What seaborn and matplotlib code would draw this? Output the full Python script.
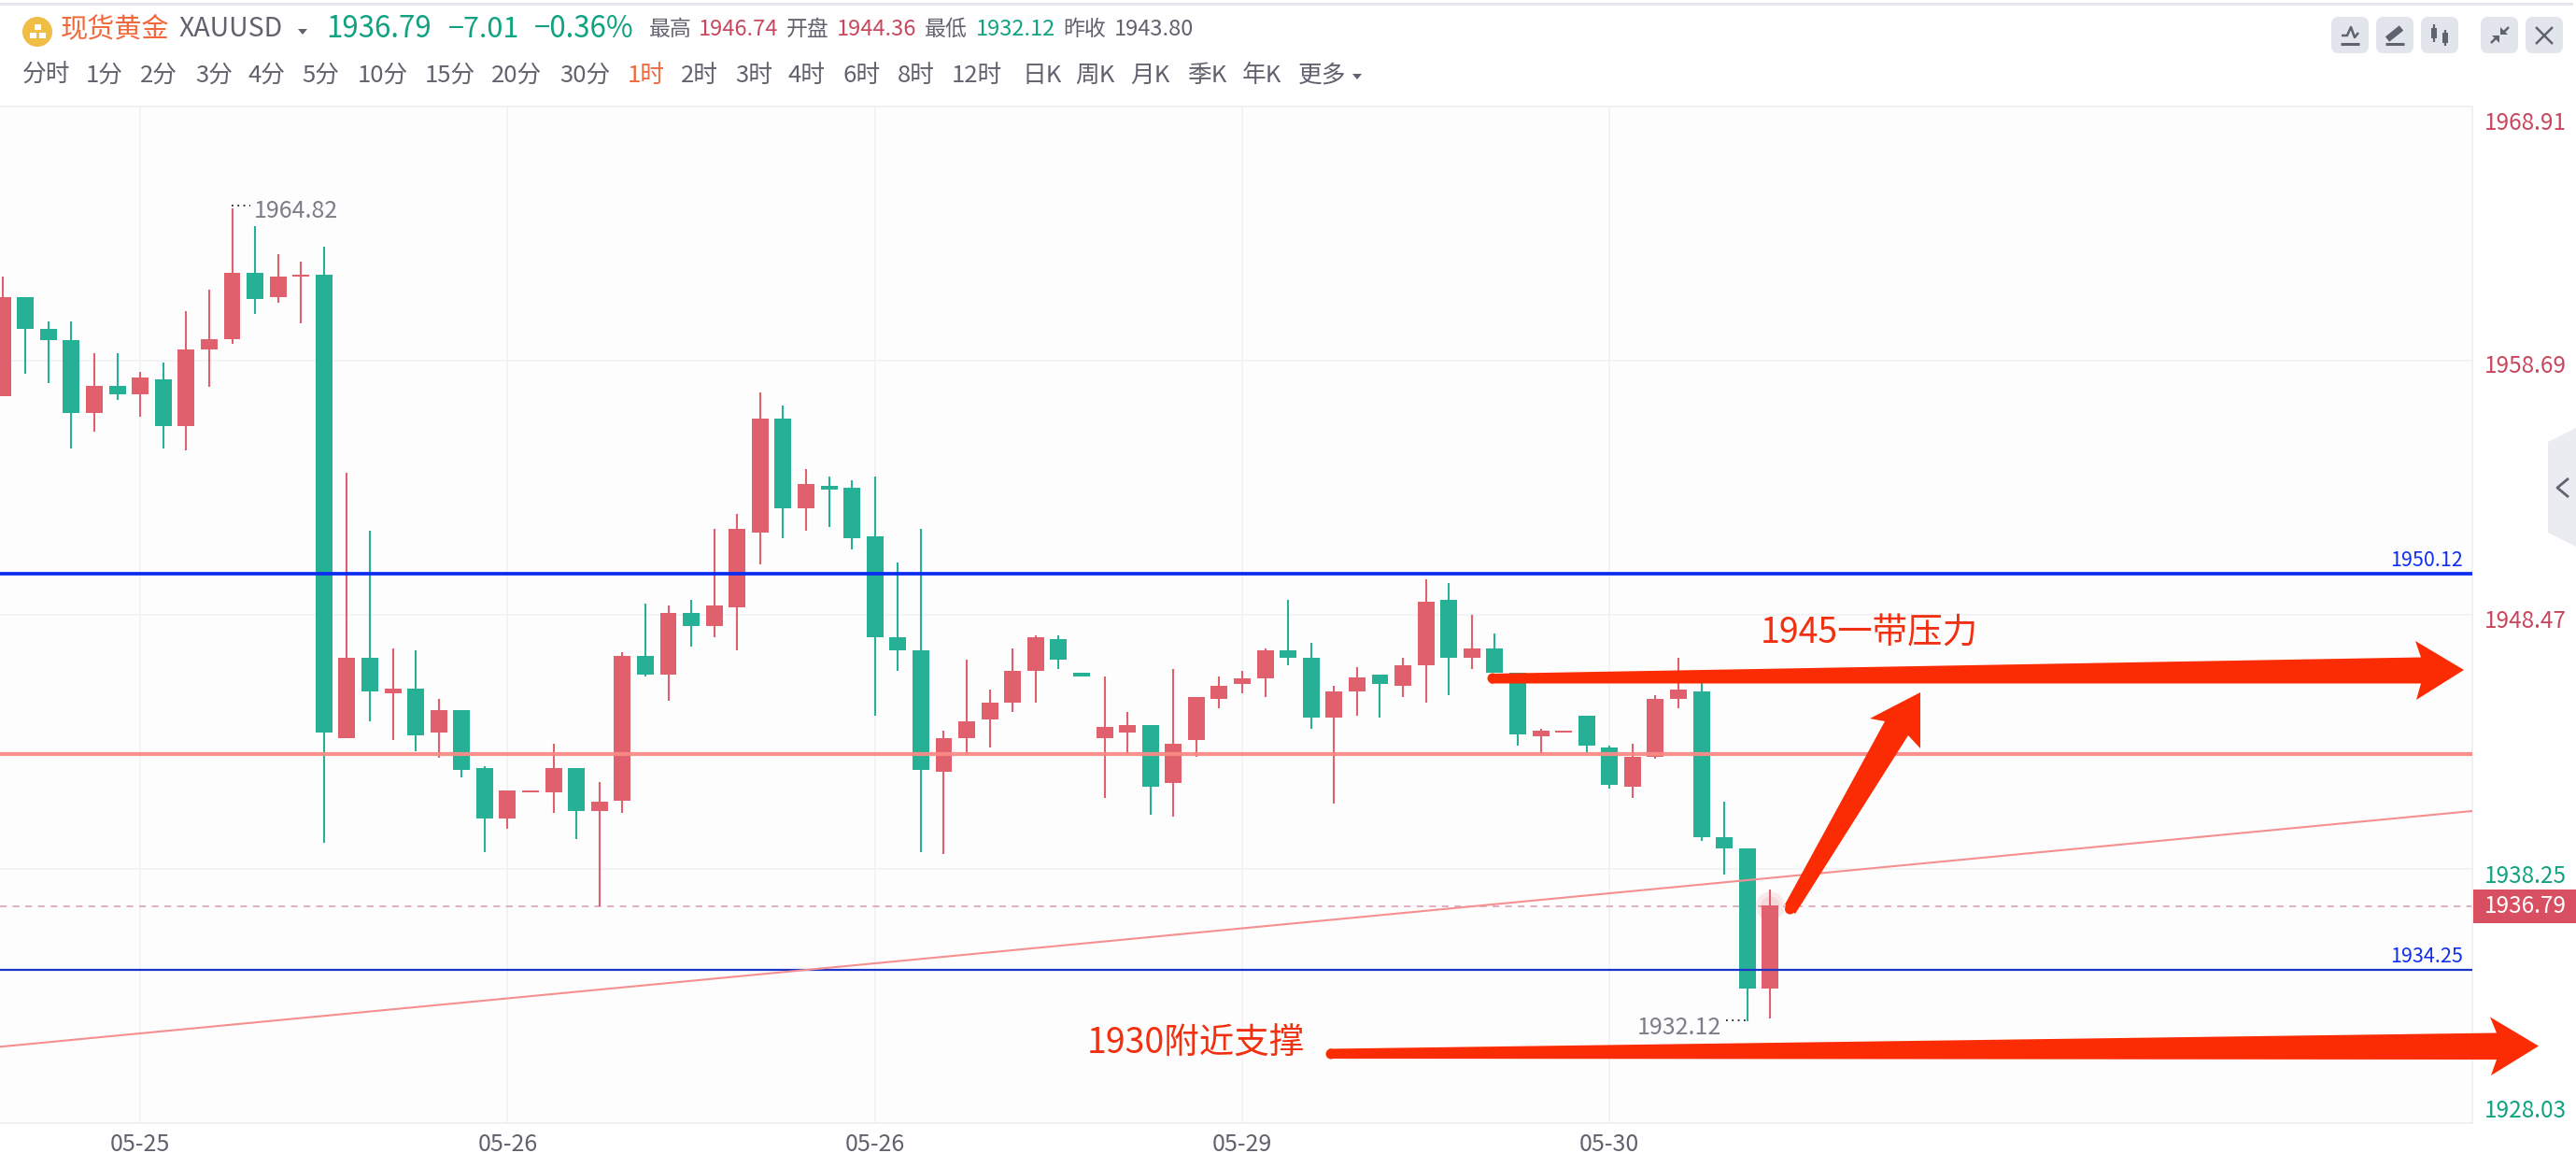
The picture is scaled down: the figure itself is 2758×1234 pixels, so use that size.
import numpy as np
import pandas as pd
import matplotlib
matplotlib.use('Agg')
import matplotlib.pyplot as plt
from matplotlib.patches import FancyBboxPatch, Polygon, Rectangle, Circle
import seaborn as sns

# --- data ---
opens = [1957.27, 1961.24, 1959.96, 1959.52, 1956.58, 1957.69, 1957.33, 1957.92, 1956.05, 1959.13,
         1959.57, 1962.22, 1961.24, 1962.08, 1962.14, 1943.51, 1946.73, 1945.31, 1945.52, 1943.72,
         1944.62, 1942.30, 1940.27, 1941.33, 1941.32, 1942.30, 1940.57, 1941.01, 1946.80, 1946.07,
         1948.54, 1948.02, 1948.76, 1951.77, 1956.35, 1952.74, 1953.65, 1953.57, 1951.62, 1947.56,
         1947.03, 1942.16, 1943.50, 1944.25, 1944.93, 1946.20, 1947.48, 1946.14, 1943.50, 1943.73,
         1944.03, 1941.71, 1943.42, 1945.08, 1945.69, 1945.91, 1947.03, 1946.74, 1944.33, 1945.38,
         1946.05, 1945.60, 1946.43, 1949.06, 1946.74, 1947.11, 1946.13, 1943.57, 1943.73, 1944.40,
         1943.13, 1941.54, 1942.76, 1945.08, 1945.38, 1939.51, 1939.07, 1933.44]
closes = [1961.24, 1959.96, 1959.52, 1956.58, 1957.69, 1957.33, 1958.00, 1956.05, 1959.13, 1959.57,
          1962.22, 1961.16, 1962.07, 1962.14, 1943.72, 1946.73, 1945.39, 1945.52, 1943.64, 1944.62,
          1942.22, 1940.27, 1941.40, 1941.40, 1942.30, 1940.57, 1940.94, 1946.80, 1946.06, 1948.54,
          1948.02, 1948.84, 1951.92, 1956.35, 1952.74, 1953.73, 1953.49, 1951.54, 1947.56, 1947.03,
          1942.22, 1943.50, 1944.17, 1944.93, 1946.20, 1947.56, 1946.67, 1945.98, 1943.95, 1944.03,
          1941.55, 1943.28, 1945.16, 1945.61, 1945.91, 1947.03, 1946.74, 1944.33, 1945.38, 1945.97,
          1945.68, 1946.43, 1948.99, 1946.74, 1947.11, 1946.13, 1943.65, 1943.80, 1943.80, 1943.21,
          1941.62, 1942.76, 1945.08, 1945.46, 1939.51, 1939.07, 1933.44, 1936.79]
highs = [1962.07, 1961.24, 1960.26, 1960.26, 1958.98, 1958.98, 1958.23, 1958.61, 1960.70, 1961.53,
         1964.82, 1964.10, 1962.97, 1962.66, 1963.27, 1954.17, 1951.85, 1947.11, 1947.03, 1945.08,
         1944.62, 1942.38, 1941.40, 1941.40, 1943.28, 1942.30, 1941.76, 1946.96, 1948.91, 1948.84,
         1949.06, 1951.92, 1952.52, 1957.41, 1956.88, 1954.32, 1954.02, 1953.88, 1954.02, 1950.57,
         1951.92, 1943.80, 1946.67, 1945.47, 1947.11, 1947.64, 1947.64, 1946.14, 1945.98, 1944.56,
         1944.03, 1946.28, 1945.16, 1945.98, 1946.20, 1947.11, 1949.06, 1947.33, 1945.60, 1946.36,
         1946.05, 1946.74, 1949.89, 1949.74, 1948.46, 1947.71, 1946.13, 1943.88, 1943.80, 1944.40,
         1943.21, 1943.27, 1945.24, 1946.74, 1945.76, 1940.94, 1939.07, 1937.41]
lows = [1957.27, 1958.15, 1957.79, 1955.14, 1955.82, 1957.10, 1956.43, 1955.14, 1955.07, 1957.64,
        1959.36, 1960.55, 1961.01, 1960.19, 1939.29, 1943.51, 1944.18, 1943.43, 1942.97, 1942.74,
        1941.92, 1938.93, 1939.88, 1941.33, 1940.50, 1939.44, 1936.74, 1940.50, 1945.98, 1945.00,
        1947.19, 1947.56, 1947.03, 1950.49, 1951.54, 1951.85, 1952.00, 1951.09, 1944.41, 1946.20,
        1938.93, 1938.85, 1942.89, 1943.13, 1944.56, 1944.93, 1946.28, 1945.98, 1941.10, 1942.91,
        1940.43, 1940.36, 1942.76, 1944.70, 1945.31, 1945.16, 1946.43, 1943.88, 1940.87, 1944.40,
        1944.33, 1945.16, 1944.93, 1945.24, 1946.29, 1946.13, 1943.21, 1942.86, 1943.73, 1942.90,
        1941.47, 1941.10, 1942.68, 1944.71, 1939.37, 1938.01, 1932.12, 1932.24]

y_ticks = [1968.91, 1958.69, 1948.47, 1938.25, 1928.03]
y_tick_colors = ['#c9475d', '#c9475d', '#c9475d', '#12a282', '#12a282']
y_tick_shift = [15, 3, 4, 5, -16]
x_ticks = [6, 22, 38, 54, 70]
x_labels = ['05-25', '05-26', '05-26', '05-29', '05-30']

blue_thick = 1950.12
blue_thin = 1934.19
pink_level = 1942.87
last_price = 1936.75
trend_x = [-0.11, 107.58]
trend_y = [1931.10, 1940.58]

# header text: text, x px, colour, size, weight
row1 = [('现货黄金', 65, '#f0683c', 21, 'normal'), ('XAUUSD', 192, '#62626e', 20.5, 'normal'),
        ('1936.79', 349, '#12a282', 22.5, 'medium'), ('−7.01', 480, '#12a282', 22, 'medium'),
        ('−0.36%', 572, '#12a282', 22.5, 'medium'), ('最高', 695, '#62626e', 16.5, 'normal'),
        ('1946.74', 748, '#c9475d', 17, 'normal'), ('开盘', 842, '#62626e', 16.5, 'normal'),
        ('1944.36', 896, '#c9475d', 17, 'normal'), ('最低', 990, '#62626e', 16.5, 'normal'),
        ('1932.12', 1045, '#12a282', 17, 'normal'), ('昨收', 1138, '#62626e', 16.5, 'normal'),
        ('1943.80', 1193, '#62626e', 17, 'normal')]
periods = ['分时', '1分', '2分', '3分', '4分', '5分', '10分', '15分', '20分', '30分', '1时', '2时',
           '3时', '4时', '6时', '8时', '12时', '日K', '周K', '月K', '季K', '年K', '更多']
period_x = [24, 92, 150, 209, 266, 323, 383, 455, 526, 599, 672, 729,
            787, 844, 902, 961, 1019, 1094, 1151, 1210, 1271, 1330, 1390]

W, H = 2758, 1234
PLOT_R, PLOT_T, PLOT_B = 2647, 114, 1202
RED, GREEN = '#e0606d', '#26b197'

sns.set_theme(style="white")
plt.rcParams['font.family'] = ['Noto Sans CJK SC', 'DejaVu Sans']
plt.rcParams['lines.solid_capstyle'] = 'butt'

fig = plt.figure(figsize=(W / 100, H / 100), dpi=100, facecolor='white')
ax = fig.add_axes([0, (H - PLOT_B) / H, PLOT_R / W, (PLOT_B - PLOT_T) / H], facecolor='#fdfdfd')

# --- candles ---
df = pd.DataFrame({'open': opens, 'close': closes, 'high': highs, 'low': lows})
df['i'] = np.arange(len(df))
df['kind'] = np.where(df['close'] >= df['open'], 'up', 'down')
df['top'] = df[['open', 'close']].max(axis=1)
df['bot'] = df[['open', 'close']].min(axis=1)

wicks = df.melt(id_vars=['i', 'kind'], value_vars=['high', 'low'], value_name='price')
sns.lineplot(data=wicks, x='i', y='price', units='i', estimator=None, hue='kind',
             palette={'up': RED, 'down': GREEN}, linewidth=1.5, legend=False, ax=ax, zorder=2)
for kind, color in [('up', RED), ('down', GREEN)]:
    sub = df[df['kind'] == kind]
    sns.barplot(x=sub['i'].values, y=(sub['top'] - sub['bot']).values, bottom=sub['bot'].values,
                native_scale=True, color=color, saturation=1, width=0.73, linewidth=0, ax=ax, zorder=2.5)

# --- levels ---
ax.axhline(blue_thick, color='#0a2df0', lw=2.7, zorder=4)
ax.axhline(blue_thin, color='#1a35c8', lw=1.6, zorder=4)
ax.axhline(pink_level, color='#fb8a86', lw=3, alpha=0.95, zorder=4)
ax.axhline(last_price, color='#e0a8bc', lw=1.3, ls=(0, (4, 3.5)), zorder=1.5)
sns.lineplot(x=trend_x, y=trend_y, color='#f58f90', linewidth=1.5, ax=ax, zorder=4)
ax.scatter([77, 77], [last_price, last_price], s=[500, 220], color=RED, alpha=0.12, linewidths=0, zorder=3)

ax.set_xlim(trend_x)
ax.set_ylim(y_ticks[-1], y_ticks[0])
ax.set_xticks(x_ticks)
ax.set_xticklabels(x_labels)
ax.set_yticks(y_ticks)
ax.set_yticklabels([f'{v:.2f}' for v in y_ticks])
ax.yaxis.tick_right()
ax.set_xlabel('')
ax.set_ylabel('')
ax.grid(True, color='#f2f2f5', lw=1.2)
ax.set_axisbelow(True)
ax.tick_params(axis='x', length=0, pad=7, labelsize=18, labelcolor='#62626e')
ax.tick_params(axis='y', length=0, pad=9, labelsize=17.5)
for lab, c, shift in zip(ax.get_yticklabels(), y_tick_colors, y_tick_shift):
    lab.set_color(c)
    lab.set_transform(lab.get_transform() + matplotlib.transforms.Affine2D().translate(0, -shift))
for side, spine in ax.spines.items():
    spine.set_visible(side != 'left')
    spine.set_color('#f0f0f3')
    spine.set_linewidth(1.3)

# --- page furniture and drawn annotations, in pixel coordinates ---
ov = fig.add_axes([0, 0, 1, 1], zorder=5)
ov.set_xlim(0, W)
ov.set_ylim(H, 0)
ov.axis('off')
ov.patch.set_alpha(0)

ov.add_patch(Rectangle((0, 3), 2755, 3, color='#e6e7ed', lw=0))
ov.add_patch(Circle((40, 34), 16, color='#f0bd45', lw=0))
for cx, cy in [(40, 29), (35, 38), (45, 38)]:
    ov.add_patch(Rectangle((cx - 3.5, cy - 3), 7, 6, color='white', lw=0))
for text, x, c, size, weight in row1:
    ov.text(x, 31, text, color=c, fontsize=size, fontweight=weight, va='center', ha='left')
ov.add_patch(Polygon([(319, 31), (329, 31), (324, 37)], color='#62626e', lw=0))
for text, x in zip(periods, period_x):
    ov.text(x, 81, text, color='#f0683c' if text == '1时' else '#62626e', fontsize=18.5, va='center', ha='left')
ov.add_patch(Polygon([(1448, 79), (1458, 79), (1453, 85)], color='#62626e', lw=0))

# toolbar buttons
ICON = '#5f636f'
for bx in [2496, 2544, 2592, 2656, 2704]:
    ov.add_patch(FancyBboxPatch((bx + 5, 23), 30, 29, boxstyle='round,pad=5,rounding_size=8', color='#e3e5ec', lw=0))
ov.plot([2507, 2513, 2517, 2521, 2525], [38, 38, 29, 40, 35], color=ICON, lw=1.8)
ov.plot([2506, 2526], [47, 47], color=ICON, lw=2.2)
ov.plot([2556, 2571], [42, 30], color=ICON, lw=5)
ov.plot([2554, 2574], [47, 47], color=ICON, lw=2.2)
ov.add_patch(Rectangle((2603, 30), 6, 11, color=ICON, lw=0))
ov.plot([2606, 2606], [26, 45], color=ICON, lw=1.6)
ov.add_patch(Rectangle((2615, 35), 6, 11, color=ICON, lw=0))
ov.plot([2618, 2618], [32, 49], color=ICON, lw=1.6)
ov.plot([2667, 2674], [46, 39], color=ICON, lw=1.8)
ov.plot([2679, 2686], [36, 29], color=ICON, lw=1.8)
ov.add_patch(Polygon([(2668, 38), (2676, 38), (2676, 46)], color=ICON, lw=0))
ov.add_patch(Polygon([(2677, 29), (2677, 37), (2685, 37)], color=ICON, lw=0))
ov.plot([2715, 2733], [29, 47], color=ICON, lw=1.8)
ov.plot([2715, 2733], [47, 29], color=ICON, lw=1.8)

# collapse tab
ov.add_patch(Polygon([(2758, 458), (2728, 473), (2728, 570), (2758, 585)], color='#ebecf1', lw=0))
ov.plot([2750, 2738, 2750], [512, 522, 532], color='#62626e', lw=2)

# high / low labels
ov.plot([248, 268], [219.5, 219.5], color='#222222', lw=1.3, ls=(0, (1, 2.5)))
ov.text(272, 226, '1964.82', color='#7d7d88', fontsize=18, va='center', ha='left')
ov.plot([1848, 1869], [1092, 1092], color='#222222', lw=1.3, ls=(0, (1, 2.5)))
ov.text(1843, 1100, '1932.12', color='#7d7d88', fontsize=18, va='center', ha='right')
ov.text(2637, 600, '1950.12', color='#1030ee', fontsize=15.5, va='center', ha='right')
ov.text(2637, 1024, '1934.25', color='#1030ee', fontsize=15.5, va='center', ha='right')

# last price tag
ov.add_patch(Rectangle((2648, 952), 110, 36, color='#d94f62', lw=0))
ov.text(2704, 970, '1936.79', color='white', fontsize=17.5, va='center', ha='center')

# hand drawn arrows
ARROW = '#fb2c03'
ov.add_patch(Polygon([(1596, 721), (2592, 703.5), (2586, 686), (2638, 717), (2587, 749), (2592, 731.5), (1596, 731.5)],
                     color=ARROW, lw=0))
ov.add_patch(Circle((1598, 726), 5.5, color=ARROW, lw=0))
ov.add_patch(Polygon([(1911, 968), (2018, 772), (2002, 769), (2056, 741), (2056, 801), (2043, 787), (1922, 978)],
                     color=ARROW, lw=0))
ov.add_patch(Circle((1916.5, 973), 5.5, color=ARROW, lw=0))
ov.add_patch(Polygon([(1423, 1122.5), (2673, 1105.5), (2666, 1088.5), (2718, 1119.5), (2667, 1151), (2673, 1134), (1423, 1133)],
                     color=ARROW, lw=0))
ov.add_patch(Circle((1425, 1128), 5.5, color=ARROW, lw=0))
ov.text(1885, 678, '1945一带压力', color='#f03010', fontsize=27, va='center', ha='left')
ov.text(1164, 1117, '1930附近支撑', color='#f03010', fontsize=27, va='center', ha='left')

fig.savefig('out.png', dpi=100)
